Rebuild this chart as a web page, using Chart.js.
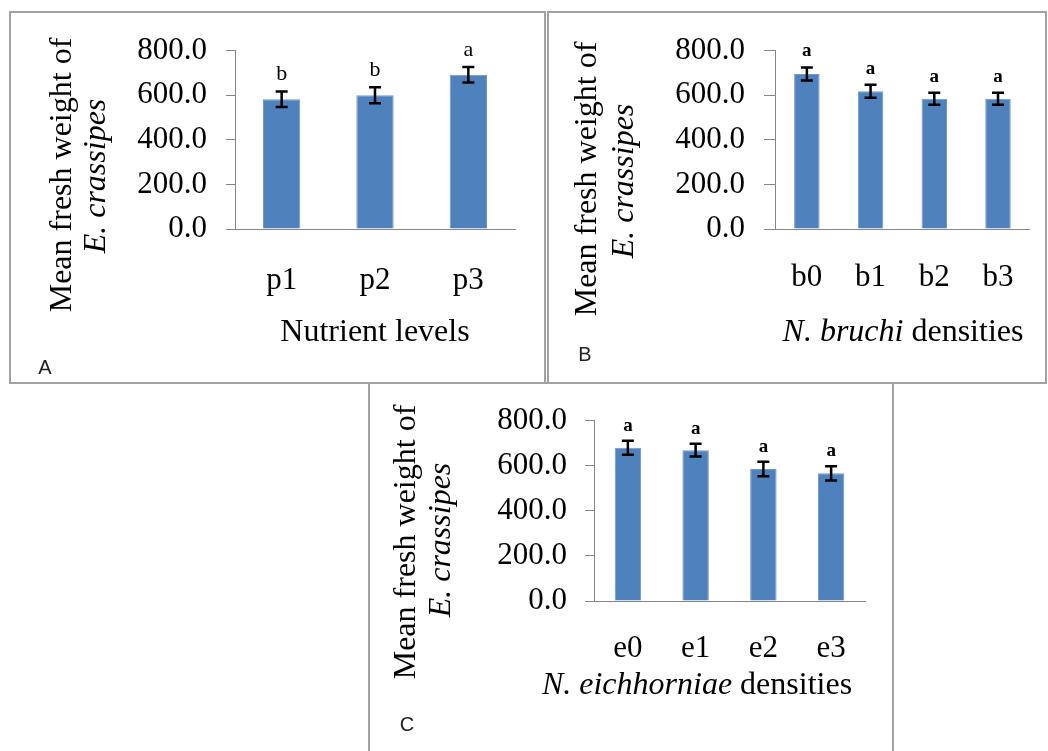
<!DOCTYPE html>
<html><head><meta charset="utf-8">
<script src="https://cdn.jsdelivr.net/npm/chart.js@4/dist/chart.umd.min.js"></script>
<style>
html,body{margin:0;padding:0;background:#fff;width:1048px;height:751px;overflow:hidden;}
.panel{position:absolute;border:2px solid #a2a2a2;box-sizing:border-box;background:#fff;}
.panel canvas{position:absolute;left:0;top:0;}
</style></head><body>
<div class="panel" id="pC"><canvas id="cC"></canvas></div>
<div class="panel" id="pA"><canvas id="cA"></canvas></div>
<div class="panel" id="pB"><canvas id="cB"></canvas></div>
<script>
// ---- data ----
const catsA = ['p1', 'p2', 'p3'];
const meansA = [582, 600, 692];
const errA = [35, 36, 35];
const lettersA = ['b', 'b', 'a'];

const catsB = ['b0', 'b1', 'b2', 'b3'];
const meansB = [695, 618, 584, 584];
const errB = [29, 29, 27, 27];
const lettersB = ['a', 'a', 'a', 'a'];

const catsC = ['e0', 'e1', 'e2', 'e3'];
const meansC = [680, 669, 585, 566];
const errC = [31, 28, 32, 32];
const lettersC = ['a', 'a', 'a', 'a'];

const yTicks = [0, 200, 400, 600, 800];
const yTitle1 = 'Mean fresh weight of';
const yTitle2 = 'E. crassipes';
const xTitleA = [['Nutrient levels', false]];
const xTitleB = [['N. bruchi', true], [' densities', false]];
const xTitleC = [['N. eichhorniae', true], [' densities', false]];

// ---- layout ----
const SERIF = '"Liberation Serif", "Times New Roman", serif';
const panels = [
  { id: 'A', cats: catsA, means: meansA, errs: errA, letters: lettersA, xTitle: xTitleA,
    box: {x: 9, y: 11, w: 537, h: 373}, area: {l: 235, r: 515, t: 44, b: 229},
    tickLen: 9, tickPad: 19, xPad: 33, barPct: 0.40,
    yt1: {x: 63, y: 175}, yt2: {x: 97, y: 176}, xt: {x: 375, y: 333}, tag: {x: 45, y: 368},
    letterFont: 'normal 22px ' + SERIF, letterOff: 17 },
  { id: 'B', cats: catsB, means: meansB, errs: errB, letters: lettersB, xTitle: xTitleB,
    box: {x: 547, y: 11, w: 500, h: 373}, area: {l: 775, r: 1033, t: 43, b: 229},
    tickLen: 11, tickPad: 19, xPad: 30, barPct: 0.40,
    yt1: {x: 588, y: 179}, yt2: {x: 625, y: 181}, xt: {x: 903, y: 333}, tag: {x: 585, y: 355},
    letterFont: 'bold 19px ' + SERIF, letterOff: 16 },
  { id: 'C', cats: catsC, means: meansC, errs: errC, letters: lettersC, xTitle: xTitleC,
    box: {x: 368, y: 382, w: 526, h: 380}, area: {l: 594, r: 865, t: 416, b: 601},
    tickLen: 9, tickPad: 18, xPad: 29, barPct: 0.39,
    yt1: {x: 407, y: 542}, yt2: {x: 442, y: 540}, xt: {x: 697, y: 686}, tag: {x: 407, y: 725},
    letterFont: 'bold 19px ' + SERIF, letterOff: 15 }
];

function drawMixed(ctx, parts, cx, cy, size) {
  let total = 0;
  const widths = parts.map(p => {
    ctx.font = (p[1] ? 'italic ' : 'normal ') + size + 'px ' + SERIF;
    const w = ctx.measureText(p[0]).width; total += w; return w;
  });
  let x = cx - total / 2;
  ctx.textAlign = 'left';
  ctx.textBaseline = 'middle';
  parts.forEach((p, i) => {
    ctx.font = (p[1] ? 'italic ' : 'normal ') + size + 'px ' + SERIF;
    ctx.fillText(p[0], x, cy);
    x += widths[i];
  });
}

panels.forEach(P => {
  const div = document.getElementById('p' + P.id);
  div.style.left = P.box.x + 'px'; div.style.top = P.box.y + 'px';
  div.style.width = P.box.w + 'px'; div.style.height = P.box.h + 'px';
  const cx = P.box.x + 2, cy = P.box.y + 2, cw = P.box.w - 4, ch = P.box.h - 4;
  const canvas = document.getElementById('c' + P.id);
  canvas.width = cw; canvas.height = ch;
  canvas.style.width = cw + 'px'; canvas.style.height = ch + 'px';

  const extras = {
    id: 'extras' + P.id,
    afterDatasetsDraw(chart) {
      const ctx = chart.ctx;
      const ys = chart.scales.y;
      const meta = chart.getDatasetMeta(0);
      ctx.save();
      ctx.strokeStyle = '#000';
      ctx.lineWidth = 2.5;
      ctx.fillStyle = '#000';
      P.means.forEach((v, i) => {
        const x = meta.data[i].x;
        const yt = ys.getPixelForValue(v + P.errs[i]);
        const yb = ys.getPixelForValue(v - P.errs[i]);
        ctx.beginPath();
        ctx.moveTo(x, yt); ctx.lineTo(x, yb);
        ctx.moveTo(x - 6, yt); ctx.lineTo(x + 6, yt);
        ctx.moveTo(x - 6, yb); ctx.lineTo(x + 6, yb);
        ctx.stroke();
        ctx.font = P.letterFont;
        ctx.textAlign = 'center';
        ctx.textBaseline = 'middle';
        ctx.fillText(P.letters[i], x, yt - P.letterOff);
      });
      // y title
      ctx.fillStyle = '#000';
      ctx.textAlign = 'center';
      ctx.textBaseline = 'middle';
      ctx.save();
      ctx.translate(P.yt1.x - cx, P.yt1.y - cy);
      ctx.rotate(-Math.PI / 2);
      ctx.font = 'normal 32px ' + SERIF;
      ctx.fillText(yTitle1, 0, 0);
      ctx.restore();
      ctx.save();
      ctx.translate(P.yt2.x - cx, P.yt2.y - cy);
      ctx.rotate(-Math.PI / 2);
      ctx.font = 'italic 32px ' + SERIF;
      ctx.fillText(yTitle2, 0, 0);
      ctx.restore();
      // x title
      drawMixed(ctx, P.xTitle, P.xt.x - cx, P.xt.y - cy, 32);
      // panel tag
      ctx.font = 'normal 20px "Liberation Sans", Arial, sans-serif';
      ctx.fillStyle = '#222';
      ctx.textAlign = 'center';
      ctx.textBaseline = 'middle';
      ctx.fillText(P.id, P.tag.x - cx, P.tag.y - cy);
      ctx.restore();
    }
  };

  new Chart(canvas, {
    type: 'bar',
    data: {
      labels: P.cats,
      datasets: [{
        data: P.means,
        backgroundColor: '#4F81BD',
        borderColor: '#7097c9',
        borderWidth: 1,
        categoryPercentage: 1,
        barPercentage: P.barPct
      }]
    },
    options: {
      responsive: false,
      animation: false,
      devicePixelRatio: 1,
      plugins: { legend: { display: false }, tooltip: { enabled: false } },
      layout: { padding: { left: 0, top: P.area.t - cy, right: cw - (P.area.r - cx), bottom: 0 } },
      scales: {
        x: {
          grid: { display: false, drawTicks: false },
          border: { display: true, color: '#868686', width: 1 },
          ticks: { color: '#000', padding: P.xPad, font: { family: SERIF, size: 31 } },
          afterFit: s => { s.height = ch - (P.area.b - cy); }
        },
        y: {
          min: 0, max: 800,
          afterBuildTicks: s => { s.ticks = yTicks.map(v => ({ value: v })); },
          grid: { display: true, drawOnChartArea: false, drawTicks: true, tickLength: P.tickLen, color: '#868686' },
          border: { display: true, color: '#868686', width: 1 },
          ticks: { color: '#000', padding: P.tickPad, font: { family: SERIF, size: 31 },
                   callback: v => Number(v).toFixed(1) },
          afterFit: s => { s.width = P.area.l - cx; }
        }
      }
    },
    plugins: [extras]
  });
});
</script>
</body></html>
